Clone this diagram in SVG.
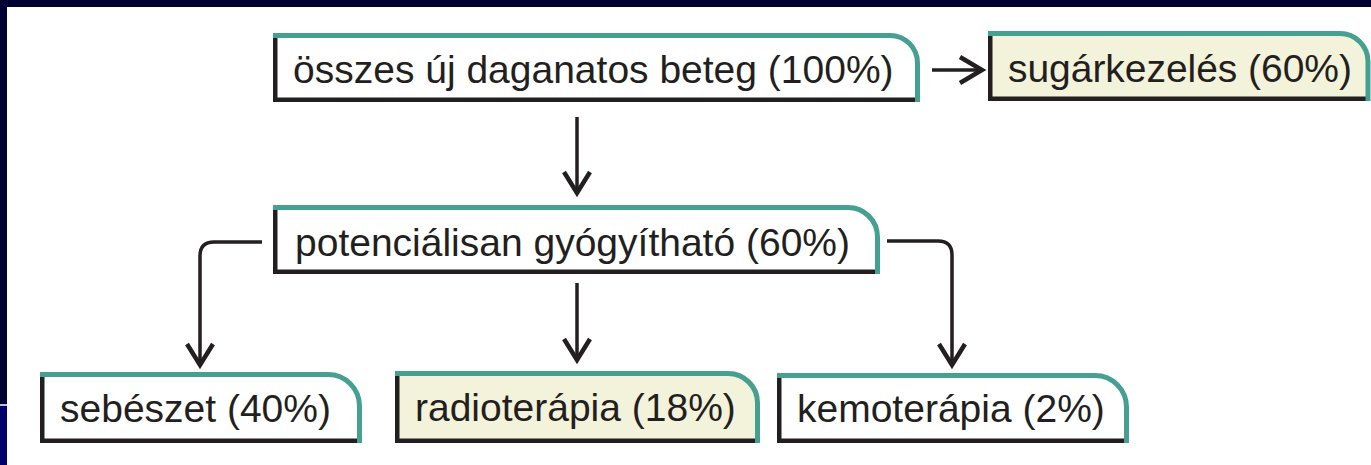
<svg xmlns="http://www.w3.org/2000/svg" width="1371" height="465" viewBox="0 0 1371 465">
<style>
.bg{fill:#ffffff}
.fillw{fill:#ffffff}
.fillc{fill:#f3f2da}
.blk{fill:none;stroke:#231f20;stroke-width:4.5}
.teal{fill:none;stroke:#45a091;stroke-width:5}
.lbl{font-family:"Liberation Sans",Arial,sans-serif;font-size:39px;fill:#231f20}
.con{fill:none;stroke:#231f20;stroke-width:3.5}
.head{fill:none;stroke:#231f20;stroke-width:4.5;stroke-linejoin:miter;stroke-linecap:butt}
</style>
<rect class="bg" x="0" y="0" width="1371" height="465"/>
<rect x="0" y="0" width="1371" height="7" fill="#000033"/>
<rect x="0" y="0" width="7" height="404" fill="#000033"/>
<rect x="0" y="404" width="7" height="2" fill="#b8c4d8"/>
<rect x="0" y="406" width="7" height="59" fill="#00006a"/>

<g id="connectors">
  <path class="con" d="M932,70 H982"/>
  <polyline class="head" points="960,57 982,70 960,83"/>
  <path class="con" d="M577,117 V193"/>
  <polyline class="head" points="564,172 577,193 590,172"/>
  <path class="con" d="M262,242 H214 Q200,242 200,256 V365"/>
  <polyline class="head" points="187,344 200,365 213,344"/>
  <path class="con" d="M577,283 V360"/>
  <polyline class="head" points="564,339 577,360 590,339"/>
  <path class="con" d="M887,241 H938 Q952,241 952,255 V365"/>
  <polyline class="head" points="939,344 952,365 965,344"/>
</g>

<g id="node-osszes">
  <path class="fillw" d="M273,33 H892 A28,28 0 0 1 920,61 V102 H273 Z"/>
  <path class="blk" d="M275.25,35 V99.75 H916"/>
  <path class="teal" d="M273,35.5 H890 A27.5,27.5 0 0 1 917.5,63 V102"/>
  <text class="lbl" x="293" y="83">összes új daganatos beteg (100%)</text>
</g>

<g id="node-sugarkezeles">
  <path class="fillc" d="M988,31 H1341 A28,28 0 0 1 1369,59 V101 H988 Z"/>
  <path class="blk" d="M990.25,33 V98.75 H1369"/>
  <path class="teal" d="M988,33.5 H1340 A28,28 0 0 1 1368,61.5 V101"/>
  <text class="lbl" x="1008" y="82" textLength="344">sugárkezelés (60%)</text>
</g>

<g id="node-potencialisan">
  <path class="fillw" d="M273,205 H850 A30,30 0 0 1 880,235 V274 H273 Z"/>
  <path class="blk" d="M275.25,207 V271.75 H876"/>
  <path class="teal" d="M273,207.5 H848 A29.5,29.5 0 0 1 877.5,237 V274"/>
  <text class="lbl" x="295" y="256">potenciálisan gyógyítható (60%)</text>
</g>

<g id="node-sebeszet">
  <path class="fillw" d="M40,372 H330 A32,32 0 0 1 362,404 V443 H40 Z"/>
  <path class="blk" d="M42.25,374 V440.75 H358"/>
  <path class="teal" d="M40,374.5 H328 A31.5,31.5 0 0 1 359.5,406 V443"/>
  <text class="lbl" x="60" y="422">sebészet (40%)</text>
</g>

<g id="node-radioterapia">
  <path class="fillc" d="M395,371 H730 A30,30 0 0 1 760,401 V443 H395 Z"/>
  <path class="blk" d="M397.25,373 V440.75 H756"/>
  <path class="teal" d="M395,373.5 H728 A29.5,29.5 0 0 1 757.5,403 V443"/>
  <text class="lbl" x="415" y="421">radioterápia (18%)</text>
</g>

<g id="node-kemoterapia">
  <path class="fillw" d="M777,373 H1097 A32,32 0 0 1 1129,405 V443 H777 Z"/>
  <path class="blk" d="M779.25,375 V440.75 H1125"/>
  <path class="teal" d="M777,375.5 H1095 A31.5,31.5 0 0 1 1126.5,407 V443"/>
  <text class="lbl" x="797" y="422">kemoterápia (2%)</text>
</g>
</svg>
